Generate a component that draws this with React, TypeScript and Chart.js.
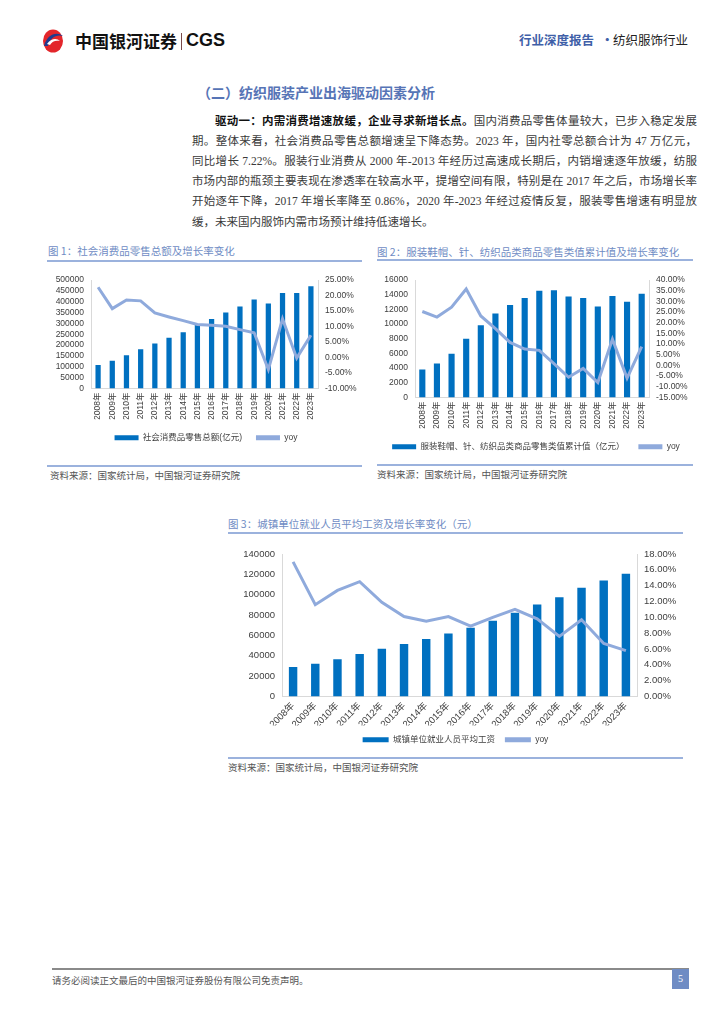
import React, { useEffect, useRef } from 'react';
import { Chart, registerables } from 'chart.js';

Chart.register(...registerables);

// ---------- data ----------
const years = ['2008年', '2009年', '2010年', '2011年', '2012年', '2013年', '2014年', '2015年', '2016年', '2017年', '2018年', '2019年', '2020年', '2021年', '2022年', '2023年'];

const retailLabel = '社会消费品零售总额(亿元)';
const retailSales = [108500, 128000, 153000, 181000, 207000, 234000, 260000, 298000, 320000, 350000, 378000, 410000, 392000, 441000, 440000, 472000];
const retailYoy = [22.7, 15.8, 18.6, 18.3, 14.4, 13.1, 11.9, 10.7, 10.4, 10.1, 9.0, 8.0, -3.9, 12.5, -0.2, 7.2];

const apparelLabel = '服装鞋帽、针、纺织品类商品零售类值累计值（亿元）';
const apparelSales = [3800, 4650, 5950, 8000, 9850, 11450, 12600, 13550, 14550, 14600, 13750, 13550, 12400, 13850, 13050, 14150];
const apparelYoy = [25.3, 22.7, 27.3, 35.8, 23.2, 17.3, 10.8, 7.7, 7.1, 0.9, -5.5, -1.4, -8.0, 12.3, -5.9, 8.8];

const wageLabel = '城镇单位就业人员平均工资';
const wages = [29000, 32200, 36500, 41800, 46800, 51500, 56400, 62000, 67600, 74300, 82400, 90500, 97400, 106800, 114000, 120700];
const wageYoy = [17.0, 11.6, 13.4, 14.5, 11.9, 10.1, 9.5, 10.1, 8.9, 10.0, 11.0, 9.8, 7.6, 9.7, 6.7, 5.8];

const yoyLabel = 'yoy';

// ---------- styles ----------
const BAR = '#0070C0';
const LINE = '#8FAADC';
const AXIS = '#D9D9D9';
const TICK = '#404040';
const CHART_FONT = '"Liberation Sans", "Noto Sans CJK SC", sans-serif';
const CJK = '"Noto Sans CJK SC", sans-serif';
const SERIF_MIX = '"Liberation Serif", "Noto Sans CJK SC", serif';

type Cfg = {
  left: number; top: number; width: number; height: number;
  bars: number[]; yoy: number[]; barLabel: string;
  leftMax: number; leftStep: number;
  rightMin: number; rightMax: number; rightStep: number;
  leftW: number; rightW: number; xH: number; padTop: number;
  rot: number; barPct: number; tickSize: number; legendPad: number; boxW: number;
};

function ComboChart({ cfg }: { cfg: Cfg }) {
  const ref = useRef<HTMLCanvasElement | null>(null);
  useEffect(() => {
    if (!ref.current) return;
    const tickFont = { family: CHART_FONT, size: cfg.tickSize };
    const chart = new Chart(ref.current, {
      type: 'bar',
      data: {
        labels: years,
        datasets: [
          {
            type: 'line', label: yoyLabel, data: cfg.yoy, yAxisID: 'y1',
            borderColor: LINE, backgroundColor: LINE, borderWidth: 3,
            pointRadius: 0, tension: 0,
          } as any,
          {
            type: 'bar', label: cfg.barLabel, data: cfg.bars, yAxisID: 'y',
            backgroundColor: BAR, categoryPercentage: 1, barPercentage: cfg.barPct,
          } as any,
        ],
      },
      options: {
        responsive: false,
        animation: false,
        devicePixelRatio: 1,
        layout: { padding: { top: cfg.padTop, left: 0, right: 0, bottom: 0 } },
        plugins: {
          tooltip: { enabled: false },
          legend: {
            position: 'bottom',
            reverse: true,
            labels: {
              boxWidth: cfg.boxW,
              boxHeight: 5,
              padding: cfg.legendPad,
              color: TICK,
              font: { family: CHART_FONT, size: 8.5 },
              generateLabels: (c: any) => {
                const items = (Chart.defaults.plugins.legend.labels as any).generateLabels(c);
                return items.map((it: any) => ({ ...it, lineWidth: 0, strokeStyle: 'rgba(0,0,0,0)' }));
              },
            },
          },
        },
        scales: {
          x: {
            grid: { display: false, drawTicks: false },
            border: { display: true, color: AXIS },
            ticks: { autoSkip: false, maxRotation: cfg.rot, minRotation: cfg.rot, padding: 4, color: TICK, font: tickFont },
            afterFit: (s: any) => { s.height = cfg.xH; },
          },
          y: {
            position: 'left', min: 0, max: cfg.leftMax,
            grid: { display: false, drawTicks: false },
            border: { display: true, color: AXIS },
            ticks: {
              stepSize: cfg.leftStep, autoSkip: false, padding: 7, color: TICK, font: tickFont,
              callback: (v: any) => String(Math.round(Number(v))),
            },
            afterFit: (s: any) => { s.width = cfg.leftW; },
          },
          y1: {
            position: 'right', min: cfg.rightMin, max: cfg.rightMax,
            grid: { display: false, drawTicks: false },
            border: { display: true, color: AXIS },
            ticks: {
              stepSize: cfg.rightStep, autoSkip: false, padding: 7, color: TICK, font: tickFont,
              callback: (v: any) => Number(v).toFixed(2) + '%',
            },
            afterFit: (s: any) => { s.width = cfg.rightW; },
          },
        },
      } as any,
    });
    return () => chart.destroy();
  }, []);
  return (
    <canvas
      ref={ref}
      width={cfg.width}
      height={cfg.height}
      style={{ position: 'absolute', left: cfg.left, top: cfg.top, width: cfg.width, height: cfg.height }}
    />
  );
}

function T({ x, y, size, color = '#333', weight = 400, family = CJK, children, style = {} }: any) {
  return (
    <div
      style={{
        position: 'absolute', left: x, top: y - size * 0.7, fontSize: size, lineHeight: `${size * 1.4}px`,
        color, fontWeight: weight, fontFamily: family, whiteSpace: 'nowrap', ...style,
      }}
    >
      {children}
    </div>
  );
}

function HLine({ x1, x2, y, color = '#9BB2DD', h = 2 }: any) {
  return <div style={{ position: 'absolute', left: x1, top: y - h / 2, width: x2 - x1, height: h, background: color }} />;
}

function PLine({ x, y, w, children, justify = true }: any) {
  return (
    <div
      style={{
        position: 'absolute', left: x, top: y - 9, width: w, height: 18, lineHeight: '18px',
        fontSize: 11.5, fontFamily: SERIF_MIX, color: '#3a3a3a', whiteSpace: 'nowrap',
        textAlign: justify ? 'justify' : 'left', textAlignLast: justify ? 'justify' : 'left',
      } as any}
    >
      {children}
    </div>
  );
}

const chart1: Cfg = {
  left: 47, top: 268, width: 318, height: 184,
  bars: retailSales, yoy: retailYoy, barLabel: retailLabel,
  leftMax: 500000, leftStep: 50000, rightMin: -10, rightMax: 25, rightStep: 5,
  leftW: 44, rightW: 47, xH: 31, padTop: 9, rot: 90, barPct: 0.37, tickSize: 8.5, legendPad: 14, boxW: 24,
};
const chart2: Cfg = {
  left: 377, top: 268, width: 318, height: 193,
  bars: apparelSales, yoy: apparelYoy, barLabel: apparelLabel,
  leftMax: 16000, leftStep: 2000, rightMin: -15, rightMax: 40, rightStep: 5,
  leftW: 38, rightW: 46, xH: 31, padTop: 9, rot: 90, barPct: 0.42, tickSize: 8.5, legendPad: 14, boxW: 24,
};
const chart3: Cfg = {
  left: 228, top: 540, width: 455, height: 214,
  bars: wages, yoy: wageYoy, barLabel: wageLabel,
  leftMax: 140000, leftStep: 20000, rightMin: 0, rightMax: 18, rightStep: 2,
  leftW: 54, rightW: 46, xH: 29, padTop: 14, rot: 45, barPct: 0.38, tickSize: 9.5, legendPad: 10, boxW: 26,
};

function Logo() {
  return (
    <svg width={22} height={24} viewBox="0 0 22 24" style={{ position: 'absolute', left: 42, top: 29 }}>
      <ellipse cx={11} cy={12} rx={10} ry={11.5} fill="#E3262B" />
      <path d="M2 17 C 5 6, 14 2, 21 7 C 14 5, 8 9, 6 17 Z" fill="#1F3B8F" />
      <path d="M5 15 C 9 9, 15 9, 18 12 C 14 11, 10 12, 8 16 Z" fill="#ffffff" />
    </svg>
  );
}

export default function App() {
  return (
    <div style={{ position: 'absolute', left: 0, top: 0, width: 724, height: 1024, background: '#fff', overflow: 'hidden' }}>
      {/* header */}
      <Logo />
      <T x={75} y={41} size={17} color="#111" weight={700} family={CJK}>中国银河证券</T>
      <div style={{ position: 'absolute', left: 181, top: 33, width: 1, height: 17, background: '#7a4a4a' }} />
      <T x={186} y={41} size={18} color="#111" weight={700} family={'"Liberation Sans", Arial, sans-serif'}>CGS</T>
      <T x={519} y={40} size={12.5} color="#3F5FA8" weight={700}>行业深度报告</T>
      <T x={601} y={40} size={12.5} color="#3F5FA8" weight={700}>·</T>
      <T x={613} y={40} size={12.5} color="#222">纺织服饰行业</T>

      {/* section title */}
      <T x={197} y={93} size={14} color="#5674B6" weight={700}>（二）纺织服装产业出海驱动因素分析</T>

      {/* paragraph */}
      <PLine x={215} y={121} w={482}>
        <span style={{ fontWeight: 700, color: '#111' }}>驱动一：内需消费增速放缓，企业寻求新增长点。</span>国内消费品零售体量较大，已步入稳定发展
      </PLine>
      <PLine x={192} y={141} w={505}>期。整体来看，社会消费品零售总额增速呈下降态势。2023 年，国内社零总额合计为 47 万亿元，</PLine>
      <PLine x={192} y={161} w={505}>同比增长 7.22%。服装行业消费从 2000 年-2013 年经历过高速成长期后，内销增速逐年放缓，纺服</PLine>
      <PLine x={192} y={181} w={505}>市场内部的瓶颈主要表现在渗透率在较高水平，提增空间有限，特别是在 2017 年之后，市场增长率</PLine>
      <PLine x={192} y={201} w={505}>开始逐年下降，2017 年增长率降至 0.86%，2020 年-2023 年经过疫情反复，服装零售增速有明显放</PLine>
      <PLine x={192} y={222} w={505} justify={false}>缓，未来国内服饰内需市场预计维持低速增长。</PLine>

      {/* chart 1 */}
      <T x={48} y={251} size={10.5} color="#6F8CC4">图 1：社会消费品零售总额及增长率变化</T>
      <HLine x1={47} x2={362} y={261} />
      <ComboChart cfg={chart1} />
      <HLine x1={47} x2={362} y={466} />
      <T x={50} y={476} size={9.5} color="#555">资料来源：国家统计局，中国银河证券研究院</T>

      {/* chart 2 */}
      <T x={377} y={252} size={10.5} color="#6F8CC4">图 2：服装鞋帽、针、纺织品类商品零售类值累计值及增长率变化</T>
      <HLine x1={377} x2={693} y={260} />
      <ComboChart cfg={chart2} />
      <HLine x1={377} x2={693} y={465} />
      <T x={377} y={475} size={9.5} color="#555">资料来源：国家统计局，中国银河证券研究院</T>

      {/* chart 3 */}
      <T x={228} y={524} size={10.5} color="#6F8CC4">图 3：城镇单位就业人员平均工资及增长率变化（元）</T>
      <HLine x1={228} x2={683} y={533} />
      <ComboChart cfg={chart3} />
      <HLine x1={228} x2={683} y={758} />
      <T x={228} y={768} size={9.5} color="#555">资料来源：国家统计局，中国银河证券研究院</T>

      {/* footer */}
      <HLine x1={52} x2={689} y={969} color="#8a8a8a" h={1.5} />
      <T x={52} y={981} size={9.5} color="#555">请务必阅读正文最后的中国银河证券股份有限公司免责声明。</T>
      <div style={{ position: 'absolute', left: 672, top: 969, width: 17, height: 20, background: '#6F8CC4', color: '#fff', fontSize: 10, lineHeight: '20px', textAlign: 'center', fontFamily: SERIF_MIX }}>5</div>
    </div>
  );
}
